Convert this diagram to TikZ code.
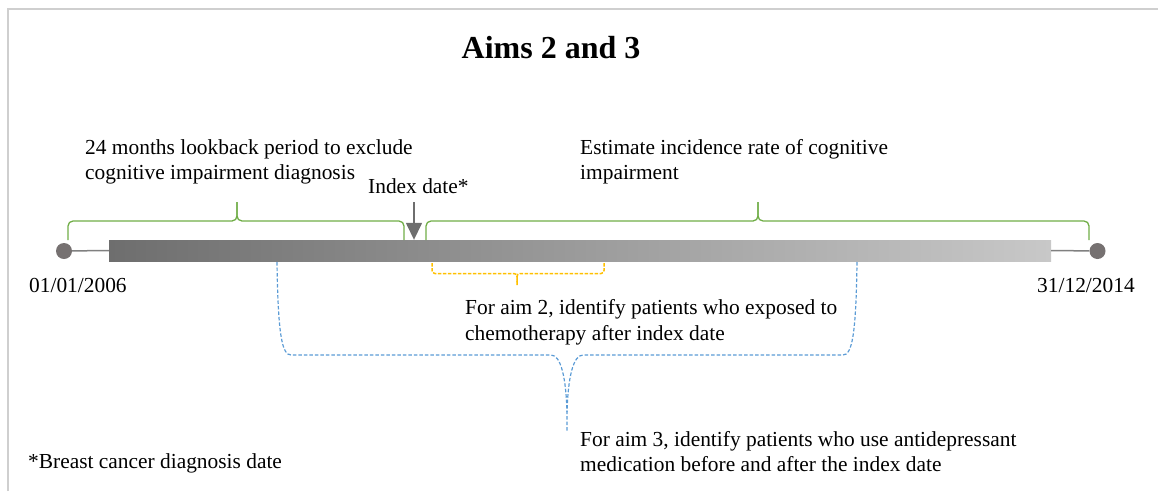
\documentclass[tikz,border=0pt]{standalone}
\usepackage{fontspec}
\setmainfont{Liberation Serif}
\usetikzlibrary{arrows.meta}
\definecolor{bgreen}{HTML}{70AD47}
\definecolor{borange}{HTML}{FFC000}
\definecolor{bblue}{HTML}{5B9BD5}
\definecolor{dotgray}{HTML}{767171}
\definecolor{linegray}{HTML}{808080}
\definecolor{arrgray}{HTML}{6E6E6E}
\definecolor{barL}{HTML}{6E6E6E}
\definecolor{barR}{HTML}{C8C8C8}
\definecolor{framegray}{HTML}{CFCFCF}
\tikzset{
  txt/.style={font=\fontsize{21.4}{25}\selectfont, inner sep=0pt, anchor=base west},
  gbrace/.style={draw=bgreen, line width=1.3pt, rounded corners=5pt},
  obrace/.style={draw=borange, line width=1.5pt, rounded corners=3pt, dash pattern=on 3.5pt off 1.5pt},
  bbrace/.style={draw=bblue, line width=1.2pt, dash pattern=on 3.5pt off 2pt},
  enddot/.style={circle, fill=dotgray, minimum size=16pt, inner sep=0pt},
  tline/.style={draw=linegray, line width=1.5pt},
  idxarrow/.style={draw=arrgray, line width=1.5pt, -{Triangle[length=17pt,width=16pt]}},
}
\begin{document}
\begin{tikzpicture}[x=1pt,y=-1pt]
\useasboundingbox (0,0) rectangle (1158,491);
\draw[framegray, line width=2pt] (8,491) -- (8,9) -- (1158,9);

% title
\node[font=\bfseries\fontsize{32}{36}\selectfont, inner sep=0pt, anchor=base] (title) at (551,58) {Aims 2 and 3};

% timeline
\node[enddot] (c1) at (64,251) {};
\node[enddot] (c2) at (1097.5,251) {};
\node[left color=barL, right color=barR, minimum width=942pt, minimum height=21pt, inner sep=0pt] (bar) at (580,250.5) {};
\draw[tline] (c1) -- (bar.west);
\draw[tline] (bar.east) -- (c2);

% index arrow
\coordinate (idxtop) at (414,202);
\draw[idxarrow] (idxtop) -- (idxtop |- bar.north);

% green braces
\draw[gbrace] (68,240) -- (68,221) -- (237,221) -- (237,202);
\draw[gbrace] (404,240) -- (404,221) -- (237,221) -- (237,202);
\draw[gbrace] (426,240) -- (426,221) -- (758,221) -- (758,202);
\draw[gbrace] (1089,240) -- (1089,221) -- (758,221) -- (758,202);

% orange brace
\draw[obrace] (432,263) -- (432,273.5) -- (517,273.5) -- (517,285);
\draw[obrace] (604,263) -- (604,273.5) -- (517,273.5) -- (517,285);

% blue brace
\draw[bbrace] (277,262) .. controls (278,335) and (282,355) .. (291,355) -- (551,355) .. controls (561,355) and (566,378) .. (567,412) -- (567,432);
\draw[bbrace] (857,262) .. controls (856,335) and (852,355) .. (843,355) -- (583,355) .. controls (573,355) and (568,378) .. (567,412);

% texts
\node[txt] (lb1) at (85,154) {24 months lookback period to exclude};
\node[txt] (lb2) at (85,179) {cognitive impairment diagnosis};
\node[txt] (idx) at (368,193) {Index date*};
\node[txt] (est1) at (580,154) {Estimate incidence rate of cognitive};
\node[txt] (est2) at (580,179) {impairment};
\node[txt] (d1) at (29,292) {01/01/2006};
\node[txt] (d2) at (1037,292) {31/12/2014};
\node[txt] (a21) at (465,314) {For aim 2, identify patients who exposed to};
\node[txt] (a22) at (465,340) {chemotherapy after index date};
\node[txt] (a31) at (580,446) {For aim 3, identify patients who use antidepressant};
\node[txt] (a32) at (580,471) {medication before and after the index date};
\node[txt] (note) at (28,468) {*Breast cancer diagnosis date};
\end{tikzpicture}
\end{document}
